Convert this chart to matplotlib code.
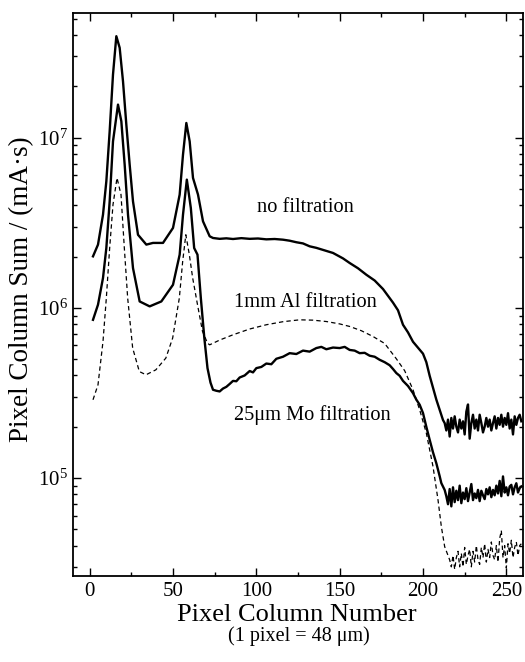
import numpy as np
import matplotlib
matplotlib.use('Agg')
import matplotlib.pyplot as plt
from matplotlib.ticker import FixedLocator, LogLocator, NullFormatter, FuncFormatter

plt.rcParams['font.family'] = ['Liberation Serif', 'DejaVu Serif']
plt.rcParams['mathtext.fontset'] = 'custom'
plt.rcParams['mathtext.rm'] = 'Liberation Serif'
plt.rcParams['mathtext.it'] = 'Liberation Serif:italic'

# ---------------- data ----------------
# no filtration: smooth part (log10 of sum) + noisy tail (sum)
nofilt_x = [2, 5, 8, 10, 12, 14, 16, 18, 20, 22, 24, 26, 29, 34, 38, 44, 50, 54, 56, 58, 60, 62, 65, 68,
            72, 74, 78, 82, 86, 91, 96, 101, 106, 111, 116, 120, 124, 128, 132, 136, 140, 146, 152, 156,
            161, 166, 171, 176, 182, 185, 188, 191, 194, 197, 200, 202, 204, 206, 208, 210, 212]
nofilt_log = [6.302, 6.371, 6.547, 6.743, 7.037, 7.371, 7.596, 7.528, 7.331, 7.076, 6.841, 6.625, 6.429,
              6.371, 6.381, 6.381, 6.469, 6.665, 6.900, 7.086, 6.978, 6.763, 6.665, 6.508, 6.420, 6.410,
              6.405, 6.408, 6.404, 6.409, 6.405, 6.407, 6.402, 6.404, 6.400, 6.394, 6.385, 6.378, 6.361,
              6.352, 6.340, 6.322, 6.290, 6.263, 6.232, 6.194, 6.160, 6.110, 6.030, 5.985, 5.900, 5.855,
              5.800, 5.765, 5.730, 5.680, 5.600, 5.530, 5.460, 5.400, 5.340]
nofilt_tail_x = list(range(213, 260))
nofilt_tail = [2.1e5, 1.9e5, 2.2e5, 1.75e5, 2.25e5, 1.95e5, 2.3e5, 2.0e5, 1.85e5, 2.2e5, 1.95e5, 2.15e5,
               1.8e5, 2.45e5, 2.7e5, 1.7e5, 2.1e5, 2.35e5, 1.95e5, 2.2e5, 1.9e5, 2.35e5, 2.1e5, 1.85e5,
               2.0e5, 2.25e5, 2.0e5, 2.2e5, 1.9e5, 2.1e5, 2.3e5, 1.95e5, 2.25e5, 2.05e5, 2.35e5, 2.0e5,
               2.25e5, 2.05e5, 2.4e5, 1.95e5, 2.2e5, 1.8e5, 2.3e5, 2.05e5, 2.25e5, 2.35e5, 2.15e5]

# 25 um Mo filtration (lower solid)
mo_x = [2, 5, 8, 10, 12, 14, 17, 19, 21, 23, 26, 30, 36, 43, 50, 54, 56, 58.3, 60.7, 62.7, 64.7, 66.7,
        68.8, 70.7, 72.5, 74, 76, 78, 80, 82, 84, 86, 88, 90, 93, 96, 98, 100, 103, 106, 109, 112, 116,
        120, 124, 128, 132, 136, 139, 142, 146, 150, 153, 156, 159, 162, 165, 168, 171, 174, 177, 180,
        182, 184, 186, 188, 191, 194, 196, 198, 200, 202, 204, 206, 208, 210, 211, 213]
mo_log = [5.929, 6.018, 6.175, 6.351, 6.625, 6.978, 7.194, 7.096, 6.841, 6.547, 6.233, 6.037, 6.008,
          6.037, 6.135, 6.312, 6.547, 6.753, 6.586, 6.351, 6.312, 6.057, 5.822, 5.645, 5.560, 5.518,
          5.512, 5.508, 5.525, 5.535, 5.552, 5.570, 5.568, 5.590, 5.602, 5.628, 5.620, 5.645, 5.652,
          5.672, 5.668, 5.700, 5.712, 5.733, 5.728, 5.748, 5.742, 5.763, 5.770, 5.756, 5.766, 5.763,
          5.770, 5.752, 5.748, 5.733, 5.735, 5.718, 5.712, 5.694, 5.680, 5.662, 5.640, 5.616, 5.600,
          5.570, 5.540, 5.498, 5.460, 5.430, 5.381, 5.300, 5.224, 5.150, 5.086, 5.010, 4.969, 4.929]
mo_tail_x = list(range(214, 260))
mo_tail = [7.8e4, 7.0e4, 8.6e4, 6.8e4, 8.8e4, 7.2e4, 8.4e4, 7.4e4, 9.0e4, 7.1e4, 8.2e4, 7.5e4, 8.7e4,
           7.3e4, 8.2e4, 9.2e4, 7.4e4, 8.1e4, 7.6e4, 8.5e4, 7.3e4, 8.4e4, 7.9e4, 7.5e4, 8.6e4, 8.0e4,
           8.8e4, 7.7e4, 8.5e4, 7.9e4, 9.0e4, 8.1e4, 9.6e4, 7.8e4, 10.2e4, 8.2e4, 8.8e4, 7.9e4, 8.9e4,
           9.1e4, 8.0e4, 8.8e4, 9.3e4, 8.2e4, 8.7e4, 8.9e4]

# 1 mm Al filtration (dashed)
al_x = [2, 5, 8, 10, 12, 14, 16.4, 18.8, 20.8, 22.8, 25.8, 29.8, 33.8, 39.7, 45.7, 49.8, 53.8, 55.8,
        57.7, 59.8, 61.8, 64.7, 67.7, 70.7, 72, 78, 86, 96, 106, 116, 126, 134, 142, 150, 156, 163, 170,
        177, 184, 189, 194, 198, 202, 206, 209, 211, 213, 216]
al_log = [5.459, 5.547, 5.802, 6.057, 6.351, 6.606, 6.763, 6.665, 6.351, 6.057, 5.763, 5.625, 5.606,
          5.635, 5.704, 5.822, 6.057, 6.272, 6.429, 6.312, 6.175, 6.018, 5.861, 5.792, 5.782, 5.810,
          5.841, 5.875, 5.900, 5.918, 5.929, 5.927, 5.919, 5.905, 5.890, 5.865, 5.831, 5.790, 5.700,
          5.630, 5.518, 5.400, 5.263, 5.067, 4.871, 4.714, 4.596, 4.518]
al_tail_x = list(range(217, 260))
al_tail = [3.0e4, 3.5e4, 2.9e4, 3.4e4, 3.7e4, 3.0e4, 3.6e4, 3.0e4, 3.9e4, 3.1e4, 3.5e4, 3.8e4, 3.0e4,
           3.7e4, 3.2e4, 4.0e4, 3.3e4, 3.1e4, 3.9e4, 3.4e4, 4.1e4, 3.2e4, 3.8e4, 3.4e4, 4.2e4, 3.5e4,
           3.3e4, 4.0e4, 3.2e4, 4.4e4, 4.9e4, 3.4e4, 4.0e4, 2.95e4, 4.1e4, 3.6e4, 4.3e4, 3.4e4, 3.9e4,
           4.2e4, 3.5e4, 4.0e4, 4.1e4]

x_major = [0, 50, 100, 150, 200, 250]
x_minor = [25, 75, 125, 175, 225]
labels = ['no filtration', '1mm Al filtration', '25\u03bcm Mo filtration']
label_pos = [(129.5, 3.87e6), (129.5, 1.08e6), (133.5, 2.35e5)]

# ---------------- plot ----------------
fig = plt.figure(figsize=(5.25, 6.62), dpi=100)
ax = fig.add_axes([73 / 525, 86 / 662, 450 / 525, 563 / 662])

def series(xs, logs, tx, tv):
    return (np.concatenate([xs, tx]), np.concatenate([10 ** np.asarray(logs), tv]))

x1, y1 = series(nofilt_x, nofilt_log, nofilt_tail_x, nofilt_tail)
x2, y2 = series(mo_x, mo_log, mo_tail_x, mo_tail)
x3, y3 = series(al_x, al_log, al_tail_x, al_tail)

ax.plot(x1, y1, color='black', lw=1.7, solid_joinstyle='round')
ax.plot(x2, y2, color='black', lw=1.7, solid_joinstyle='round')
ax.plot(x3, y3, color='black', lw=0.9, linestyle=(0, (3.5, 2.5)))

ax.set_yscale('log')
ax.set_xlim(-10, 260)
ax.set_ylim(2.65e4, 5.4e7)

ax.xaxis.set_major_locator(FixedLocator(x_major))
ax.xaxis.set_minor_locator(FixedLocator(x_minor))
ax.yaxis.set_major_locator(LogLocator(base=10, numticks=10))
ax.yaxis.set_minor_locator(LogLocator(base=10, subs=np.arange(2, 10), numticks=20))
ax.yaxis.set_minor_formatter(NullFormatter())
ax.yaxis.set_major_formatter(FuncFormatter(lambda v, p: r'$10^{%d}$' % int(round(np.log10(v)))))

ax.tick_params(which='both', direction='in', top=True, right=True, width=1.0)
ax.tick_params(which='major', length=5.5, labelsize=15, pad=4)
ax.tick_params(which='minor', length=3)
for s in ax.spines.values():
    s.set_linewidth(1.3)

ax.set_ylabel('Pixel Column Sum / (mA\u00b7s)', fontsize=19.5)
ax.yaxis.set_label_coords(-0.086, 0.51)

fig.text(297 / 525, 1 - 621 / 662, 'Pixel Column Number', ha='center', va='baseline', fontsize=19)
fig.text(299 / 525, 1 - 641 / 662, '(1 pixel = 48 \u03bcm)', ha='center', va='baseline', fontsize=14.5)

for t, (xx, yy) in zip(labels, label_pos):
    ax.text(xx, yy, t, ha='center', va='center', fontsize=14.7)

fig.savefig('out.png', dpi=100)
